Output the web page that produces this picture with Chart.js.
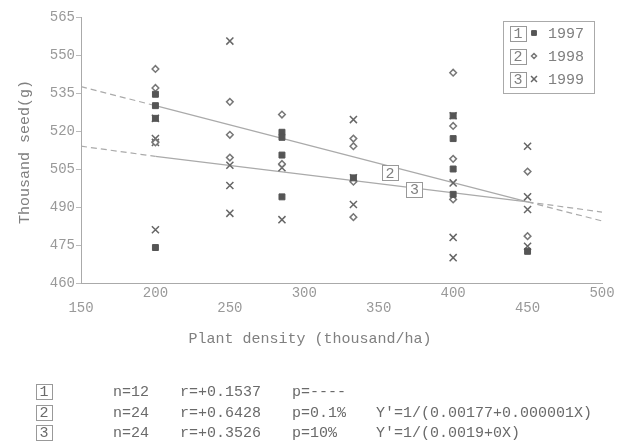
<!DOCTYPE html>
<html>
<head>
<meta charset="utf-8">
<script src="https://cdn.jsdelivr.net/npm/chart.js@4.4.1/dist/chart.umd.min.js"></script>
<style>
  html, body { margin: 0; padding: 0; background: #fff; }
  #wrap { width: 628px; height: 441px; }
</style>
</head>
<body>
<div id="wrap"><canvas id="seedChart" width="628" height="441"></canvas></div>
<script>
// thousand-seed weight vs plant density
const x1997 = [200, 200, 200, 200, 285, 285, 285, 285, 333, 400, 400, 400, 400, 450];
const y1997 = [534.5, 530, 525, 474, 519.5, 517.5, 510.5, 494, 501.5, 526, 517, 505, 495, 472.5];

const x1998 = [200, 200, 200, 250, 250, 250, 285, 285, 333, 333, 333, 333, 400, 400, 400, 400, 450, 450];
const y1998 = [544.5, 537, 515.5, 531.5, 518.5, 509.5, 526.5, 507, 517, 514, 500, 486, 543, 522, 509, 493, 504, 478.5];

const x1999 = [200, 200, 200, 200, 250, 250, 250, 250, 285, 285, 333, 333, 333, 400, 400, 400, 400, 450, 450, 450, 450];
const y1999 = [525, 517, 515.5, 481, 555.5, 506.5, 498.5, 487.5, 505.5, 485, 524.5, 501.5, 491, 526, 499.5, 478, 470, 514, 494, 489, 474.5];

// fitted curves (dashed outside the measured range)
const fitX = [150, 200, 450, 500];
const fit2 = [537.5, 530, 492, 484.5];
const fit3 = [514, 510, 492, 488];

const years = ["1997", "1998", "1999"];
const statN = ["n=12", "n=24", "n=24"];
const statR = ["r=+0.1537", "r=+0.6428", "r=+0.3526"];
const statP = ["p=----", "p=0.1%", "p=10%"];
const statEq = ["", "Y'=1/(0.00177+0.000001X)", "Y'=1/(0.0019+0X)"];

// where the curve numbers sit, in data units
const curveTags = [
    { text: "2", x: 357.5, y: 503.6 },
    { text: "3", x: 374, y: 497 }
];

const MONO = '"Liberation Mono", "DejaVu Sans Mono", monospace';

const pairs = (xs, ys) => xs.map((x, i) => ({ x: x, y: ys[i] }));

const pointSets = [
    { label: "1997", data: pairs(x1997, y1997), pointStyle: "rect", pointRadius: 4.2,
      backgroundColor: "#555", borderColor: "#555", pointBorderWidth: 1 },
    { label: "1998", data: pairs(x1998, y1998), pointStyle: "rectRot", pointRadius: 3.3,
      backgroundColor: "#fff", borderColor: "#777", pointBorderWidth: 1.5 },
    { label: "1999", data: pairs(x1999, y1999), pointStyle: "crossRot", pointRadius: 5,
      backgroundColor: "#666", borderColor: "#666", pointBorderWidth: 1.5 }
];

const outside = c => c.p0.parsed.x < 200 || c.p1.parsed.x > 450;

const fitSets = [fit2, fit3].map(v => ({
    label: "fit",
    data: pairs(fitX, v),
    showLine: true,
    pointRadius: 0,
    borderColor: "#aaa",
    borderWidth: 1.2,
    segment: { borderDash: c => outside(c) ? [6, 4] : undefined }
}));

function numBox(ctx, text, cx, cy) {
    ctx.strokeStyle = "#999";
    ctx.lineWidth = 1;
    ctx.strokeRect(Math.round(cx - 8) + 0.5, Math.round(cy - 7.5) + 0.5, 16, 15);
    ctx.textAlign = "center";
    ctx.fillText(text, cx, cy + 1);
}

const extras = {
    id: "extras",
    afterDraw(chart) {
        const ctx = chart.ctx;
        const xs = chart.scales.x, ys = chart.scales.y;
        ctx.save();
        ctx.font = "15px " + MONO;
        ctx.fillStyle = "#808080";
        ctx.textBaseline = "middle";

        // axis titles
        ctx.textAlign = "center";
        ctx.fillText("Plant density (thousand/ha)", 310, 339);
        ctx.save();
        ctx.translate(25, 152);
        ctx.rotate(-Math.PI / 2);
        ctx.fillText("Thousand seed(g)", 0, 0);
        ctx.restore();

        // curve number tags
        curveTags.forEach(t => {
            const px = xs.getPixelForValue(t.x), py = ys.getPixelForValue(t.y);
            ctx.fillStyle = "#fff";
            ctx.fillRect(px - 8, py - 7.5, 16, 15);
            ctx.fillStyle = "#808080";
            numBox(ctx, t.text, px, py);
        });

        // legend
        ctx.strokeStyle = "#aaa";
        ctx.lineWidth = 1;
        ctx.strokeRect(503.5, 21.5, 91, 72);
        const rowY = [33, 56, 79];
        years.forEach((yr, i) => {
            ctx.fillStyle = "#808080";
            numBox(ctx, String(i + 1), 518, rowY[i]);
            const ds = pointSets[i];
            ctx.fillStyle = ds.backgroundColor;
            ctx.strokeStyle = ds.borderColor;
            ctx.lineWidth = ds.pointBorderWidth;
            Chart.helpers.drawPoint(ctx, {
                pointStyle: ds.pointStyle, radius: ds.pointRadius - 0.8,
                borderWidth: ds.pointBorderWidth, rotation: 0
            }, 534, rowY[i]);
            ctx.fillStyle = "#808080";
            ctx.textAlign = "left";
            ctx.fillText(yr, 548, rowY[i] + 1);
        });

        // statistics under the chart
        const tableY = [391, 412, 432];
        ctx.fillStyle = "#6a6a6a";
        statN.forEach((n, i) => {
            const y = tableY[i];
            numBox(ctx, String(i + 1), 44, y);
            ctx.textAlign = "left";
            ctx.fillText(n, 113, y + 1);
            ctx.fillText(statR[i], 180, y + 1);
            ctx.fillText(statP[i], 292, y + 1);
            ctx.fillText(statEq[i], 376, y + 1);
        });
        ctx.restore();
    }
};

new Chart(document.getElementById("seedChart"), {
    type: "scatter",
    data: { datasets: [...pointSets, ...fitSets] },
    options: {
        responsive: false,
        animation: false,
        devicePixelRatio: 1,
        layout: { padding: { left: 0, top: 17, right: 26, bottom: 0 } },
        plugins: { legend: { display: false }, tooltip: { enabled: false } },
        scales: {
            x: {
                type: "linear",
                min: 150, max: 500,
                afterFit: s => { s.height = 158; },
                grid: { drawOnChartArea: false, drawTicks: false },
                border: { color: "#aaa" },
                ticks: {
                    stepSize: 50,
                    autoSkip: false,
                    maxRotation: 0, minRotation: 0,
                    padding: 3,
                    color: "#999",
                    font: { family: MONO, size: 14, lineHeight: 1.07 },
                    callback: v => (v % 100 === 0) ? String(v) : ["", String(v)]
                }
            },
            y: {
                type: "linear",
                min: 460, max: 565,
                afterFit: s => { s.width = 81; },
                grid: { drawOnChartArea: false, drawTicks: true, tickLength: 5, color: "#bbb" },
                border: { color: "#aaa" },
                ticks: {
                    stepSize: 15,
                    padding: 1,
                    color: "#999",
                    font: { family: MONO, size: 14 }
                }
            }
        }
    },
    plugins: [extras]
});
</script>
</body>
</html>
